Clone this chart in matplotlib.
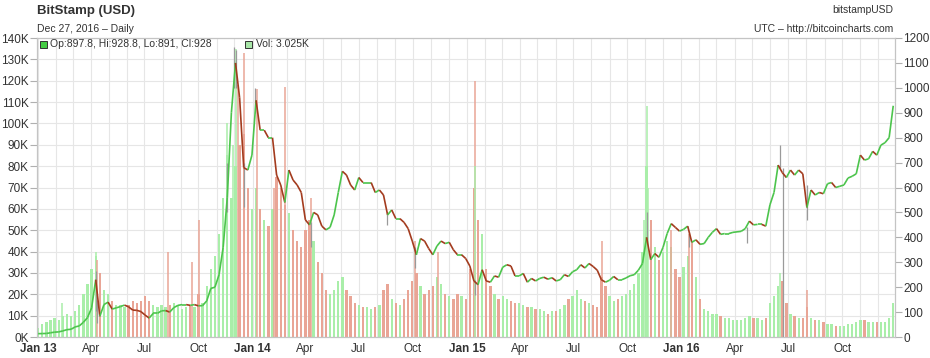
import matplotlib
matplotlib.use('Agg')
import matplotlib.pyplot as plt
import matplotlib.dates as mdates
from matplotlib.collections import LineCollection
from matplotlib.patches import Rectangle
import numpy as np
import pandas as pd

plt.rcParams['font.family'] = ['Liberation Sans', 'DejaVu Sans']

# weekly samples, Jan 1 2013 .. Dec 27 2016
weeks = pd.date_range('2013-01-01', '2016-12-27', freq='7D')

# weekly close price (USD)
close = [
    # 2013
    13.3, 13.8, 14.2, 17.0, 19.5,  20.5, 24.5, 29.5, 31.0,  40.5, 44.5, 59, 78,
    117, 230, 83, 130, 140,  112, 117, 122, 128,  121, 108, 107, 102,
    88, 76, 95, 95, 105,  106, 100, 118, 127,  130, 130, 127, 130,
    125, 126, 145, 195, 200,  250, 360, 560, 900,  1100, 960, 680, 670, 730,
    # 2014
    950, 830, 830, 800,  800, 650, 610, 540,  670, 630, 610, 580,
    470, 450, 500, 490, 445,  430, 440, 490, 580,  665, 650, 610, 590,
    640, 620, 620, 620, 580,  590, 570, 490, 510,  475, 475, 460, 435, 385,
    330, 395, 385, 355,  330, 365, 385, 375,  380, 350, 330, 330, 315,
    # 2015
    285, 225, 210, 270,  225, 220, 245, 240,  280, 290, 285, 245, 245,
    255, 220, 235, 225,  235, 240, 232, 238,  225, 230, 250, 243, 262,
    270, 290, 277, 295,  283, 268, 230, 220,  228, 243, 230, 230, 237,
    246, 250, 268, 295,  400, 310, 335, 320,  360, 415, 455, 440, 425,
    # 2016
    432, 445, 380, 390,  372, 375, 400, 420,  435, 412, 415, 415, 420,
    422, 424, 435, 465,  450, 452, 452, 445, 530,  580, 690, 660, 640,
    670, 650, 670, 655,  520, 590, 570, 580, 575,  615, 620, 600, 605,
    610, 638, 645, 655,  730, 710, 715, 745, 730,  770, 780, 800, 928,
]

# daily volume level per week (thousand BTC)
volume = [
    # 2013
    4, 6, 7, 8, 9,  8, 10, 11, 10,  12, 15, 20, 25,  32, 38, 30, 22, 20,
    17, 15, 15, 14,  15, 17, 16, 17,  19, 17, 15, 14, 15,  14, 15, 16, 15,
    13, 14, 15, 14,  20, 16, 24, 32, 38,  48, 65, 85, 65,  80, 90, 95, 70, 60,
    # 2014
    70, 60, 55, 52,  60, 75, 70, 62,  58, 50, 45, 42,  50, 55, 45, 35, 30,
    22, 20, 22, 26,  28, 22, 19, 16,  15, 14, 14, 13, 14,  15, 22, 25, 18,
    16, 15, 18, 22, 26,  30, 24, 20, 22,  24, 28, 25, 20,  19, 18, 20, 19, 18,
    # 2015
    32, 70, 55, 48,  32, 24, 20, 18,  19, 18, 17, 16, 16,  15, 14, 14, 13,
    13, 12, 11, 12,  12, 13, 15, 18, 19,  22, 18, 17, 16,  15, 14, 28, 24,
    19, 17, 18, 19, 20,  22, 25, 30, 40,  80, 55, 42, 36,  40, 45, 42, 32, 28,
    # 2016
    33, 38, 45, 28,  18, 13, 12, 11,  11, 10, 9, 9, 8,  8, 8, 9, 10,
    9, 9, 8, 9, 16,  19, 24, 26, 16,  11, 10, 9, 9,  14, 9, 8, 8, 7,
    6, 6, 5, 5,  5, 6, 6, 7,  8, 8, 7, 7, 7,  7, 7, 9, 16,
]

# single-day volume spikes (thousand BTC)
spike_dates = ['2013-02-10', '2013-04-10', '2013-04-12', '2013-08-10', '2013-09-20',
               '2013-10-02', '2013-11-18', '2013-11-28', '2013-12-04', '2013-12-07',
               '2013-12-10', '2013-12-18', '2014-01-08', '2014-02-06', '2014-02-26',
               '2014-03-04', '2014-04-11', '2014-10-05', '2014-11-12', '2015-01-14',
               '2015-01-15', '2015-08-19', '2015-10-30', '2015-11-04', '2015-11-05',
               '2015-12-15', '2016-01-15', '2016-06-17', '2016-08-02']
spike_vol = [16, 40, 36, 40, 35, 55, 100, 90, 135, 118, 80, 133, 116, 70, 117,
             55, 65, 45, 40, 120, 80, 45, 55, 108, 70, 50, 48, 30, 22]
spike_up = [1, 1, 0, 0, 0, 0, 1, 1, 1, 0, 0, 0, 0, 0, 0,
            1, 0, 0, 0, 0, 1, 0, 1, 1, 1, 0, 0, 1, 0]

# daily high / low extremes
wick_dates = ['2013-04-10', '2013-04-12', '2013-11-18', '2013-11-30', '2013-12-04',
              '2013-12-18', '2014-01-06', '2014-04-10', '2014-08-18', '2014-10-05',
              '2015-01-14', '2015-11-04', '2016-01-15', '2016-04-22', '2016-06-17',
              '2016-06-23', '2016-08-02']
wick_hi = [266, 150, 700, 1163, 1150, 700, 1000, 460, 500, 360, 230, 500, 420, 440, 770, 680, 610]
wick_lo = [105, 55, 500, 1000, 1000, 520, 900, 360, 450, 275, 170, 380, 360, 378, 680, 0, 470]

tick_dates = pd.date_range('2013-01-01', '2016-10-01', freq='QS')
tick_labels = ['Jan 13', 'Apr', 'Jul', 'Oct', 'Jan 14', 'Apr', 'Jul', 'Oct',
               'Jan 15', 'Apr', 'Jul', 'Oct', 'Jan 16', 'Apr', 'Jul', 'Oct']

last_bar = 'Op:897.8, Hi:928.8, Lo:891, Cl:928'
last_vol = 'Vol: 3.025K'

G_PRICE, R_PRICE = '#4cc44c', '#a33b1e'
G_VOL, R_VOL = '#a9eea9', '#e9a596'
TXT = '#333333'

x = mdates.date2num(weeks)
c = np.array(close, dtype=float)
up = np.r_[True, c[1:] >= c[:-1]]

fig = plt.figure(figsize=(9.3, 3.58), dpi=100)
ax = fig.add_axes([37 / 930, 21 / 358, 858 / 930, 299 / 358])
ax2 = ax.twinx()

# volume (left axis)
ax.bar(x, np.array(volume) * 1000, width=4, color=np.where(up, G_VOL, R_VOL),
       linewidth=0, zorder=2)
sx = mdates.date2num(pd.to_datetime(spike_dates))
ax.vlines(sx, 0, np.array(spike_vol) * 1000, colors=np.where(np.array(spike_up) == 1, G_VOL, R_VOL),
          linewidth=1.1, zorder=2)
ax.set_ylim(0, 140000)
ax.set_yticks(np.arange(0, 140001, 10000))
ax.set_yticklabels([f'{v // 1000}K' for v in range(0, 140001, 10000)])

# price (right axis)
wx = mdates.date2num(pd.to_datetime(wick_dates))
ax2.vlines(wx, wick_lo, wick_hi, colors='#9a9a9a', linewidth=0.9, zorder=2)
pts = np.column_stack([x, c])
segs = np.stack([pts[:-1], pts[1:]], axis=1)
lc = LineCollection(segs, colors=np.where(up[1:], G_PRICE, R_PRICE), linewidths=1.2, zorder=3)
ax2.add_collection(lc)
ax2.set_ylim(0, 1200)
ax2.set_yticks(np.arange(0, 1201, 100))

ax.set_xlim(mdates.date2num(pd.Timestamp('2012-12-30')), mdates.date2num(pd.Timestamp('2016-12-30')))
ax.set_xticks(mdates.date2num(tick_dates))
ax.set_xticklabels(tick_labels)
for lab in ax.get_xticklabels():
    if lab.get_text().startswith('Jan'):
        lab.set_fontweight('bold')
ax.set_xticks(mdates.date2num(pd.date_range('2013-01-01', '2016-12-01', freq='MS')), minor=True)

ax.set_axisbelow(True)
ax.grid(which='both', axis='x', color='#e6e6e6', linewidth=0.8)
ax.grid(which='major', axis='y', color='#e6e6e6', linewidth=0.8)

for a in (ax, ax2):
    for s in a.spines.values():
        s.set_color('#c4c4c4')
        s.set_linewidth(0.8)
ax.tick_params(axis='x', which='both', length=0, pad=4, labelsize=8.5, labelcolor=TXT)
ax.tick_params(axis='y', length=5, width=0.8, color='#b0b0b0', pad=1, labelsize=8.5, labelcolor=TXT)
ax2.tick_params(axis='y', length=5, width=0.8, color='#b0b0b0', pad=1, labelsize=8.5, labelcolor=TXT)

# header texts
fig.text(37 / 930, 1 - 11 / 358, 'BitStamp (USD)', fontsize=9.5, fontweight='bold', color=TXT, va='center')
fig.text(37 / 930, 1 - 29 / 358, 'Dec 27, 2016 \u2013 Daily', fontsize=7.5, color=TXT, va='center')
fig.text(893 / 930, 1 - 10 / 358, 'bitstampUSD', fontsize=7.5, color=TXT, va='center', ha='right')
fig.text(893 / 930, 1 - 29 / 358, 'UTC \u2013 http://bitcoincharts.com', fontsize=7.5, color=TXT,
         va='center', ha='right')

# legend row
ly = 1 - 44 / 358
fig.patches.append(Rectangle((40 / 930, ly - 3.5 / 358), 7 / 930, 7 / 358, transform=fig.transFigure,
                             facecolor='#44cc44', edgecolor='#333333', linewidth=0.7))
fig.text(50 / 930, ly, last_bar, fontsize=7.5, color=TXT, va='center')
fig.patches.append(Rectangle((245 / 930, ly - 3.5 / 358), 7 / 930, 7 / 358, transform=fig.transFigure,
                             facecolor='#a8e6a8', edgecolor='#333333', linewidth=0.7))
fig.text(256 / 930, ly, last_vol, fontsize=7.5, color=TXT, va='center')

fig.savefig('out.png', dpi=100)
